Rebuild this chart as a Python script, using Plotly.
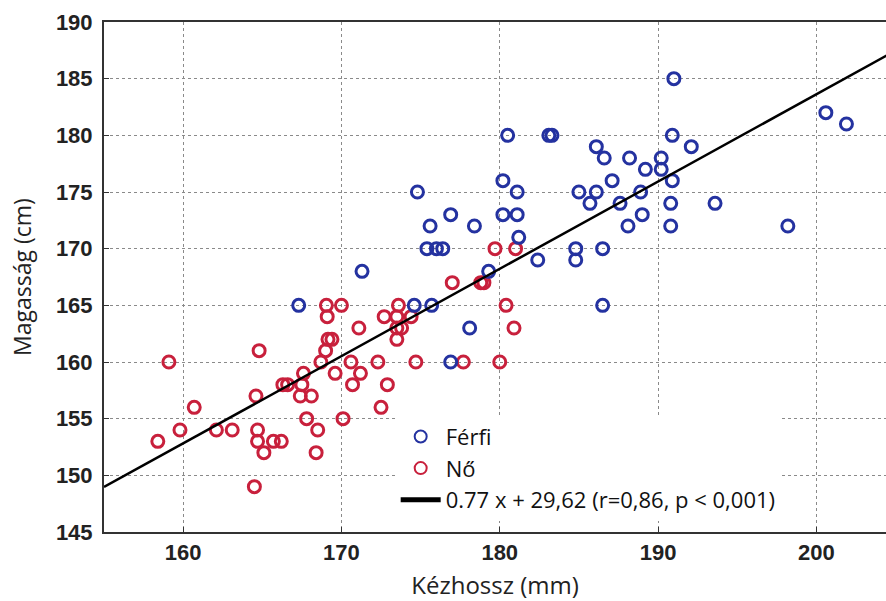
import plotly.graph_objects as go

# Férfi (men): hand length (mm), height (cm)
ferfi_x = [167.3, 174.6, 175.7, 180.2, 174.8, 181.1, 176.9, 180.2, 181.1, 175.6,
           178.4, 181.2, 175.4, 176.0, 176.4, 171.3, 182.4, 179.3, 178.1, 176.9,
           180.5, 183.1, 183.3, 191.0, 200.6, 201.9, 190.9, 186.1, 192.1, 186.6,
           188.2, 190.2, 189.2, 190.2, 187.1, 190.9, 185.0, 186.1, 188.9, 185.7,
           187.6, 190.8, 193.6, 189.0, 188.1, 190.8, 198.2, 184.8, 186.5, 184.8,
           186.5]
ferfi_y = [165, 165, 165, 176, 175, 175, 173, 173, 173, 172,
           172, 171, 170, 170, 170, 168, 169, 168, 163, 160,
           180, 180, 180, 185, 182, 181, 180, 179, 179, 178,
           178, 178, 177, 177, 176, 176, 175, 175, 175, 174,
           174, 174, 174, 173, 172, 172, 172, 170, 170, 169,
           165]

# Nő (women)
no_x = [169.05, 170.0, 169.1, 171.1, 169.15, 169.4, 169.0, 164.8, 159.1, 168.7,
        170.6, 169.6, 171.2, 170.7, 167.6, 167.5, 166.3, 166.6, 164.6, 167.4,
        168.1, 160.7, 167.8, 170.1, 159.8, 162.1, 163.1, 164.7, 168.5, 158.4,
        164.7, 165.7, 166.2, 165.1, 168.4, 164.5, 179.7, 181.0, 177.0, 178.8,
        179.0, 173.6, 180.4, 172.7, 173.5, 174.4, 180.9, 173.5, 173.8, 173.5,
        172.3, 174.7, 177.7, 180.0, 172.9, 172.5]
no_y = [165, 165, 164, 163, 162, 162, 161, 161, 160, 160,
        160, 159, 159, 158, 159, 158, 158, 158, 157, 157,
        157, 156, 155, 155, 154, 154, 154, 154, 154, 153,
        153, 153, 153, 152, 152, 149, 170, 170, 167, 167,
        167, 165, 165, 164, 164, 164, 163, 163, 163, 162,
        160, 160, 160, 160, 158, 156]

# Regression line
slope = 0.77
intercept = 29.62
line_x = [155, 205]
line_y = [slope * v + intercept for v in line_x]
line_label = "0.77 x + 29,62 (r=0,86, p < 0,001)"

x_ticks = [160, 170, 180, 190, 200]
y_ticks = [145, 150, 155, 160, 165, 170, 175, 180, 185, 190]

BLUE = "#2432a0"
RED = "#c8203c"

fig = go.Figure()
fig.add_trace(go.Scatter(
    x=no_x, y=no_y, mode="markers", name="Nő", legendrank=2,
    marker=dict(symbol="circle-open", size=12, color=RED, line=dict(width=3, color=RED)),
))
fig.add_trace(go.Scatter(
    x=ferfi_x, y=ferfi_y, mode="markers", name="Férfi", legendrank=1,
    marker=dict(symbol="circle-open", size=12, color=BLUE, line=dict(width=3, color=BLUE)),
))
fig.add_trace(go.Scatter(
    x=line_x, y=line_y, mode="lines", name=line_label, legendrank=3,
    line=dict(color="black", width=2.5),
))

tickfont = dict(family="Liberation Sans, Arial, sans-serif", size=22, color="#222", weight="bold")

fig.update_layout(
    width=886, height=601,
    margin=dict(l=104, r=0, t=22, b=69),
    plot_bgcolor="white", paper_bgcolor="white",
    showlegend=True,
    legend=dict(
        x=0.373, y=0.228, xanchor="left", yanchor="top",
        bgcolor="white", borderwidth=0,
        font=dict(family="Open Sans, sans-serif", size=22, color="#111"),
        itemsizing="constant", itemwidth=40, tracegroupgap=0,
        entrywidth=450, entrywidthmode="pixels",
    ),
    xaxis=dict(
        range=[155, 204.4], tickvals=x_ticks, ticks="inside", ticklen=5,
        tickcolor="#333", showline=True, linecolor="#333", linewidth=2, mirror=True,
        showgrid=True, gridcolor="#8a8a8a", griddash="dot", gridwidth=1.2,
        zeroline=False, tickfont=tickfont, automargin=False,
        title=dict(text="Kézhossz (mm)",
                   font=dict(family="Open Sans, sans-serif", size=24, color="#222"),
                   standoff=17),
    ),
    yaxis=dict(
        range=[145, 190], tickvals=y_ticks, ticks="inside", ticklen=5,
        tickcolor="#333", showline=True, linecolor="#333", linewidth=2, mirror=False,
        showgrid=True, gridcolor="#8a8a8a", griddash="dot", gridwidth=1.2,
        zeroline=False, tickfont=tickfont, automargin=False, ticklabelstandoff=5,
        title=dict(text="Magasság (cm)",
                   font=dict(family="Open Sans, sans-serif", size=23, color="#222"),
                   standoff=18),
    ),
)

fig.write_html("out.html", config={"displayModeBar": False},
               post_script="document.body.style.margin='0';")
